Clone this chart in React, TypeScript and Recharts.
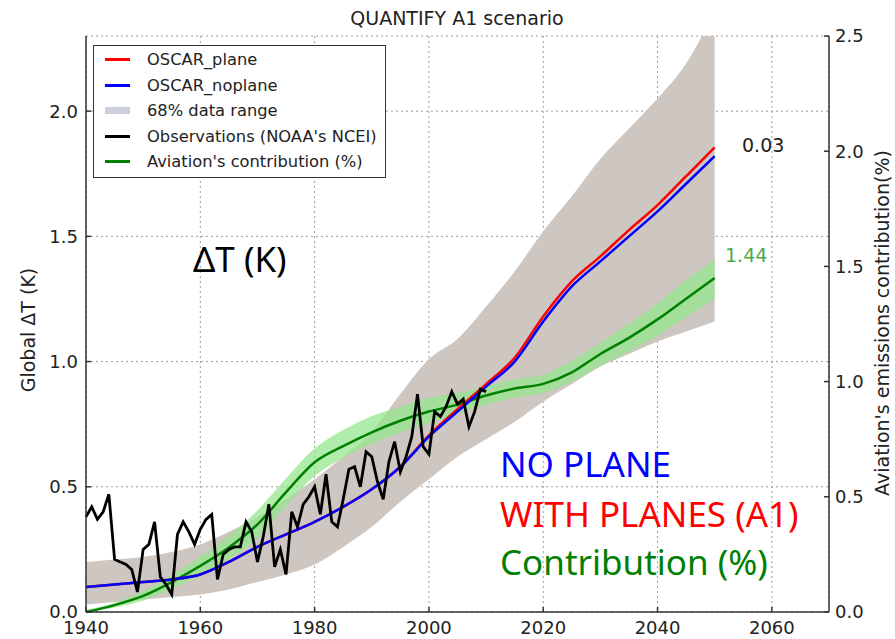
import React from "react";
import {
  ComposedChart, Line, Area, XAxis, YAxis, CartesianGrid, Legend,
} from "recharts";

// model runs, every 5 years
const modelYears = [
  1940, 1945, 1950, 1955, 1960, 1965, 1970, 1975, 1980, 1985, 1990, 1995,
  2000, 2005, 2010, 2015, 2020, 2025, 2030, 2035, 2040, 2045, 2050,
];
const noplane = [
  0.10, 0.11, 0.12, 0.13, 0.15, 0.20, 0.26, 0.31, 0.36, 0.42, 0.49, 0.58,
  0.70, 0.80, 0.90, 1.00, 1.16, 1.30, 1.40, 1.50, 1.60, 1.71, 1.82,
];
const plane = [
  0.10, 0.11, 0.12, 0.13, 0.15, 0.20, 0.26, 0.31, 0.36, 0.42, 0.49, 0.58,
  0.705, 0.81, 0.91, 1.015, 1.18, 1.32, 1.42, 1.525, 1.625, 1.74, 1.855,
];
const rangeLow = [
  0.03, 0.04, 0.05, 0.06, 0.07, 0.09, 0.12, 0.15, 0.19, 0.26, 0.34, 0.44,
  0.53, 0.62, 0.69, 0.76, 0.84, 0.91, 0.98, 1.03, 1.08, 1.12, 1.16,
];
const rangeHigh = [
  0.20, 0.21, 0.22, 0.24, 0.27, 0.32, 0.38, 0.45, 0.53, 0.62, 0.72, 0.87,
  1.01, 1.09, 1.22, 1.36, 1.52, 1.66, 1.81, 1.93, 2.05, 2.19, 2.40,
];
// aviation's share of warming (%), right axis
const contrib = [
  0.00, 0.03, 0.07, 0.13, 0.20, 0.28, 0.38, 0.52, 0.65, 0.72, 0.78, 0.83,
  0.87, 0.90, 0.94, 0.97, 0.99, 1.04, 1.12, 1.19, 1.27, 1.36, 1.45,
];
const contribLow = [
  0.00, 0.02, 0.05, 0.10, 0.16, 0.23, 0.32, 0.46, 0.59, 0.67, 0.73, 0.78,
  0.82, 0.86, 0.90, 0.93, 0.95, 1.00, 1.07, 1.13, 1.20, 1.28, 1.36,
];
const contribHigh = [
  0.01, 0.04, 0.09, 0.16, 0.24, 0.33, 0.44, 0.58, 0.71, 0.79, 0.85, 0.89,
  0.93, 0.95, 0.98, 1.01, 1.03, 1.09, 1.17, 1.25, 1.34, 1.44, 1.53,
];

// NOAA NCEI observations, yearly
const obsYears = [
  1940, 1941, 1942, 1943, 1944, 1945, 1946, 1947, 1948, 1949,
  1950, 1951, 1952, 1953, 1954, 1955, 1956, 1957, 1958, 1959,
  1960, 1961, 1962, 1963, 1964, 1965, 1966, 1967, 1968, 1969,
  1970, 1971, 1972, 1973, 1974, 1975, 1976, 1977, 1978, 1979,
  1980, 1981, 1982, 1983, 1984, 1985, 1986, 1987, 1988, 1989,
  1990, 1991, 1992, 1993, 1994, 1995, 1996, 1997, 1998, 1999,
  2000, 2001, 2002, 2003, 2004, 2005, 2006, 2007, 2008, 2009, 2010,
];
const obs = [
  0.38, 0.42, 0.37, 0.40, 0.47, 0.21, 0.20, 0.19, 0.17, 0.08,
  0.25, 0.27, 0.36, 0.14, 0.11, 0.07, 0.31, 0.36, 0.32, 0.27,
  0.33, 0.37, 0.39, 0.13, 0.23, 0.25, 0.26, 0.26, 0.36, 0.32,
  0.20, 0.30, 0.43, 0.18, 0.25, 0.15, 0.40, 0.34, 0.43, 0.46,
  0.50, 0.39, 0.55, 0.36, 0.34, 0.45, 0.57, 0.58, 0.50, 0.64,
  0.62, 0.52, 0.45, 0.60, 0.68, 0.56, 0.62, 0.70, 0.87, 0.66,
  0.63, 0.80, 0.78, 0.82, 0.88, 0.83, 0.85, 0.74, 0.80, 0.89, 0.88,
];

const xTicks = [1940, 1960, 1980, 2000, 2020, 2040, 2060];
const leftTicks = [0, 0.5, 1, 1.5, 2];
const rightTicks = [0, 0.5, 1, 1.5, 2, 2.5];

const legendItems = [
  { label: "OSCAR_plane", color: "#ff0000", h: 3 },
  { label: "OSCAR_noplane", color: "#0000ff", h: 3 },
  { label: "68% data range", color: "#cdd0da", h: 7 },
  { label: "Observations (NOAA's NCEI)", color: "#000000", h: 3 },
  { label: "Aviation's contribution (%)", color: "#008000", h: 3 },
];

const years = Array.from(new Set([...obsYears, ...modelYears])).sort((a, b) => a - b);
const data = years.map((year) => {
  const m = modelYears.indexOf(year);
  const o = obsYears.indexOf(year);
  return {
    year,
    obs: o >= 0 ? obs[o] : null,
    noplane: m >= 0 ? noplane[m] : null,
    plane: m >= 0 ? plane[m] : null,
    range: m >= 0 ? [rangeLow[m], rangeHigh[m]] : [null, null],
    contrib: m >= 0 ? contrib[m] : null,
    contribRange: m >= 0 ? [contribLow[m], contribHigh[m]] : [null, null],
  };
});

const FONT = "'DejaVu Sans', sans-serif";
const tickStyle = { fontSize: 18, fill: "#222", fontFamily: FONT };
const fmt = (v: number) => v.toFixed(1);

function LegendBox() {
  return (
    <div style={{ border: "1.5px solid #333", background: "#fff", padding: "1px 8px 2px 11px", fontFamily: FONT, fontSize: 16.3, color: "#222" }}>
      {legendItems.map((it) => (
        <div key={it.label} style={{ display: "flex", alignItems: "center", height: 25.5, whiteSpace: "nowrap" }}>
          <span style={{ display: "inline-block", width: 25, height: it.h, background: it.color, marginRight: 17 }} />
          {it.label}
        </div>
      ))}
    </div>
  );
}

const big = { position: "absolute" as const, fontFamily: "'Noto Sans', sans-serif", fontSize: 35, lineHeight: 1, whiteSpace: "nowrap" as const };

export default function App() {
  return (
    <div style={{ position: "absolute", left: 0, top: 0, width: 895, height: 639, background: "#fff", fontFamily: FONT }}>
      <ComposedChart width={895} height={639} data={data} margin={{ top: 36, right: 26, bottom: 2, left: 26 }}>
        <CartesianGrid yAxisId="L" stroke="#9a9a9a" strokeDasharray="2 3" />
        <XAxis dataKey="year" type="number" domain={[1940, 2070]} ticks={xTicks} height={25}
          tick={tickStyle} tickSize={-5} tickMargin={14} stroke="#333" strokeWidth={1.5} />
        <XAxis xAxisId="top" orientation="top" type="number" domain={[1940, 2070]} ticks={xTicks}
          height={0} tick={false} tickSize={-5} stroke="#333" strokeWidth={1.5} />
        <YAxis yAxisId="L" domain={[0, 2.3]} ticks={leftTicks} allowDataOverflow width={60}
          tick={tickStyle} tickFormatter={fmt} tickSize={-5} tickMargin={13} stroke="#333" strokeWidth={1.5} />
        <YAxis yAxisId="R" orientation="right" domain={[0, 2.5]} ticks={rightTicks} width={40}
          tick={tickStyle} tickFormatter={fmt} tickSize={-5} tickMargin={11} stroke="#333" strokeWidth={1.5} />
        <Area yAxisId="L" type="monotone" dataKey="range" fill="#cdc6c1" fillOpacity={1} stroke="none" connectNulls isAnimationActive={false} />
        <Area yAxisId="R" type="monotone" dataKey="contribRange" fill="#96e68e" fillOpacity={0.75} stroke="none" connectNulls isAnimationActive={false} />
        <Line yAxisId="R" type="monotone" dataKey="contrib" stroke="#008000" strokeWidth={2.5} dot={false} activeDot={false} connectNulls isAnimationActive={false} />
        <Line yAxisId="L" type="monotone" dataKey="plane" stroke="#ff0000" strokeWidth={2.5} dot={false} activeDot={false} connectNulls isAnimationActive={false} />
        <Line yAxisId="L" type="monotone" dataKey="noplane" stroke="#0000ff" strokeWidth={2.5} dot={false} activeDot={false} connectNulls isAnimationActive={false} />
        <Line yAxisId="L" dataKey="obs" stroke="#000000" strokeWidth={2.8} dot={false} activeDot={false} connectNulls isAnimationActive={false} />
        <Legend layout="vertical" align="center" verticalAlign="middle"
          wrapperStyle={{ left: 93, top: 45, width: "auto", height: "auto" }} content={() => <LegendBox />} />
      </ComposedChart>

      <div style={{ position: "absolute", left: 457, top: 7, transform: "translateX(-50%)", fontSize: 19, color: "#222", whiteSpace: "nowrap" }}>
        QUANTIFY A1 scenario
      </div>
      <div style={{ position: "absolute", left: 28, top: 330, transform: "translate(-50%, -50%) rotate(-90deg)", fontSize: 19, color: "#222", whiteSpace: "nowrap" }}>
        Global ΔT (K)
      </div>
      <div style={{ position: "absolute", left: 882, top: 323, transform: "translate(-50%, -50%) rotate(-90deg)", fontSize: 19, color: "#222", whiteSpace: "nowrap" }}>
        Aviation's emissions contribution(%)
      </div>
      <div style={{ position: "absolute", left: 742, top: 136, fontSize: 19, lineHeight: 1, color: "#222" }}>0.03</div>
      <div style={{ position: "absolute", left: 725, top: 246, fontSize: 19, lineHeight: 1, color: "#4caa4c" }}>1.44</div>

      <div style={{ ...big, left: 193, top: 241, color: "#000" }}>ΔT (K)</div>
      <div style={{ ...big, left: 500, top: 446, color: "#0000ff" }}>NO PLANE</div>
      <div style={{ ...big, left: 500, top: 496, color: "#ff0000" }}>WITH PLANES (A1)</div>
      <div style={{ ...big, left: 500, top: 544, color: "#008000" }}>Contribution (%)</div>
    </div>
  );
}
